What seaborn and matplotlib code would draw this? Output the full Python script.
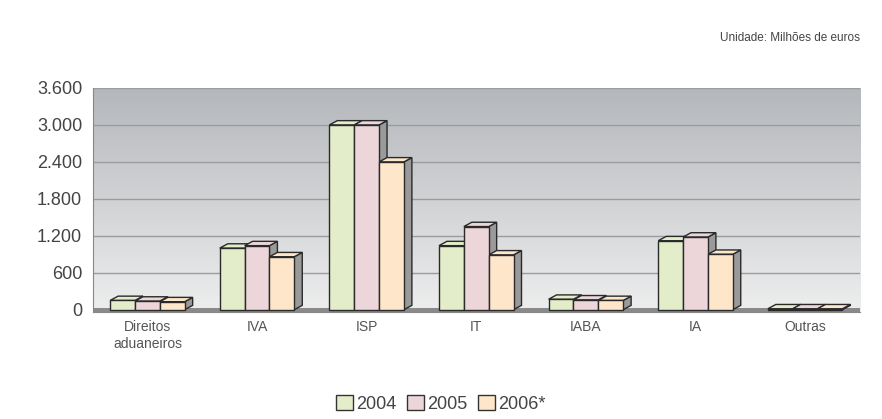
import numpy as np
import pandas as pd
import matplotlib
matplotlib.use("Agg")
import matplotlib.pyplot as plt
from matplotlib.patches import Polygon, Rectangle
from matplotlib.ticker import FuncFormatter
import seaborn as sns

# dati (milioni di euro)
categorie = ["Direitos\naduaneiros", "IVA", "ISP", "IT", "IABA", "IA", "Outras"]
anni = ["2004", "2005", "2006*"]
valori_2004 = [150, 1000, 3000, 1040, 170, 1120, 15]
valori_2005 = [140, 1040, 3000, 1350, 160, 1180, 15]
valori_2006 = [130, 860, 2400, 890, 150, 900, 15]
y_ticks = [0, 600, 1200, 1800, 2400, 3000, 3600]
colori = ["#e4edc9", "#ecd6da", "#fde6c9"]

df = pd.DataFrame({
    "categoria": categorie * 3,
    "anno": [anni[0]] * 7 + [anni[1]] * 7 + [anni[2]] * 7,
    "valore": valori_2004 + valori_2005 + valori_2006,
})

sns.set_style("white")
plt.rcParams["font.family"] = ["Liberation Sans", "DejaVu Sans"]

fig = plt.figure(figsize=(8.82, 4.19), dpi=100)
ax = fig.add_axes([0.105, 0.255, 0.87, 0.535])

# sfondo a gradiente (grigio sopra, quasi bianco sotto)
grad = np.linspace(0, 1, 256).reshape(-1, 1)
ax.imshow(grad, cmap=sns.light_palette("#b4b7bb", as_cmap=True),
          extent=[0, 1, 0, 1], transform=ax.transAxes, aspect="auto", zorder=0,
          origin="lower", vmin=-0.05, vmax=1.0)

sns.barplot(data=df, x="categoria", y="valore", hue="anno", palette=colori,
            width=0.68, gap=0, edgecolor="#2a2a2a", linewidth=1.0,
            saturation=1, legend=False, ax=ax, zorder=3)

ax.set_xlim(-0.5, 6.5)
ax.set_ylim(-40, 3600)
ax.set_yticks(y_ticks)
ax.yaxis.set_major_formatter(FuncFormatter(lambda v, p: f"{int(v):,}".replace(",", ".")))
ax.yaxis.grid(True, color="#9a9ca0", linewidth=1.0, zorder=1)
ax.set_axisbelow(True)

# pavimento grigio scuro
ax.add_patch(Rectangle((-0.5, -40), 7, 70, facecolor="#8a8a8a", edgecolor="none", zorder=2))

# effetto 3D: facce laterali e superiori ricavate dalle barre di seaborn
for p in list(ax.patches):
    if p.get_zorder() != 3:
        continue
    x0, w, h = p.get_x(), p.get_width(), p.get_height()
    dx, dy = w * 0.32, 70
    top = Polygon([(x0, h), (x0 + dx, h + dy), (x0 + w + dx, h + dy), (x0 + w, h)],
                  closed=True, facecolor=p.get_facecolor(), edgecolor="#2a2a2a",
                  linewidth=1.0, zorder=2.9)
    side = Polygon([(x0 + w, 0), (x0 + w + dx, dy), (x0 + w + dx, h + dy), (x0 + w, h)],
                   closed=True, facecolor="#9a9a9a", edgecolor="#2a2a2a",
                   linewidth=1.0, zorder=2.9)
    ax.add_patch(side)
    ax.add_patch(top)

for s in ["top", "right"]:
    ax.spines[s].set_visible(False)
ax.spines["left"].set_color("#888888")
ax.spines["bottom"].set_color("#888888")
ax.tick_params(axis="y", labelsize=13, colors="#444444", length=4, color="#888888")
ax.tick_params(axis="x", labelsize=10, colors="#555555", length=0, pad=6)
ax.set_xlabel("")
ax.set_ylabel("")

fig.text(0.975, 0.91, "Unidade: Milhões de euros", ha="right", va="center",
         fontsize=8.5, color="#444444")

# legenda in basso
handles = [Rectangle((0, 0), 1, 1, facecolor=c, edgecolor="#333333") for c in colori]
fig.legend(handles, anni, loc="center", bbox_to_anchor=(0.5, 0.035), ncol=3,
           frameon=False, fontsize=13, handlelength=0.9, handleheight=0.9,
           handletextpad=0.2, columnspacing=0.6, labelcolor="#444444")

fig.savefig("out.png", dpi=100)
